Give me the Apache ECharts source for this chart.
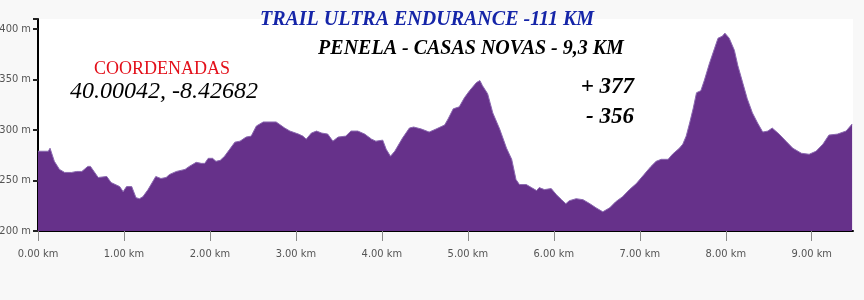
<!DOCTYPE html>
<html>
<head>
<meta charset="utf-8">
<script src="https://cdn.jsdelivr.net/npm/echarts@6/dist/echarts.min.js"></script>
<style>
html,body{margin:0;padding:0;background:#f8f8f8;}
#c{width:864px;height:300px;}
</style>
</head>
<body>
<div id="c"></div>
<script>
// Distance along the route (km)
const distanceKm = [
  0.00, 0.12, 0.14, 0.19, 0.25, 0.31, 0.39, 0.45, 0.51, 0.58, 0.61, 0.70, 0.80, 0.85, 0.95, 0.99,
  1.03, 1.09, 1.14, 1.18, 1.22, 1.28, 1.37, 1.43, 1.49, 1.53, 1.61, 1.71, 1.76, 1.84, 1.90, 1.94, 1.98,
  2.03, 2.07, 2.12, 2.17, 2.23, 2.29, 2.35, 2.42, 2.48, 2.54, 2.62, 2.77, 2.87, 2.93,
  3.03, 3.08, 3.12, 3.18, 3.24, 3.30, 3.37, 3.43, 3.49, 3.58, 3.64, 3.72, 3.80, 3.88, 3.93,
  4.01, 4.05, 4.10, 4.15, 4.24, 4.32, 4.37, 4.46, 4.55, 4.63, 4.73, 4.77, 4.83, 4.90, 4.96,
  5.02, 5.10, 5.14, 5.17, 5.23, 5.29, 5.37, 5.45, 5.51, 5.56, 5.60, 5.68, 5.74, 5.80, 5.83, 5.89, 5.97,
  6.03, 6.09, 6.14, 6.18, 6.26, 6.34, 6.42, 6.49, 6.57, 6.65, 6.72, 6.80, 6.88, 6.96,
  7.05, 7.13, 7.19, 7.25, 7.33, 7.38, 7.46, 7.50, 7.54, 7.58, 7.62, 7.66, 7.71, 7.75, 7.81, 7.87, 7.91, 7.96, 7.99,
  8.04, 8.10, 8.14, 8.20, 8.25, 8.31, 8.37, 8.43, 8.49, 8.54, 8.62, 8.70, 8.78, 8.88, 8.97,
  9.05, 9.13, 9.20, 9.30, 9.40, 9.47
];
// Elevation (m)
const elevationM = [
  279, 279, 282, 269, 261, 258, 258, 259, 259, 264, 264, 253, 254, 248, 244, 239,
  244, 244, 233, 232, 234, 241, 254, 252, 253, 256, 259, 261, 264, 268, 267, 267, 272,
  272, 269, 270, 274, 281, 288, 289, 293, 294, 304, 308, 308, 302, 299,
  296, 294, 291, 297, 299, 297, 296, 289, 293, 294, 299, 299, 296, 291, 289,
  290, 281, 274, 279, 292, 302, 303, 301, 298, 301, 305, 311, 321, 323, 332,
  339, 347, 349, 344, 336, 317, 301, 282, 271, 251, 246, 246, 243, 240, 243, 241, 242,
  236, 231, 227, 230, 232, 231, 227, 223, 219, 223, 229, 234, 241, 247,
  256, 264, 269, 271, 271, 276, 282, 286, 294, 307, 321, 337, 339, 349, 366, 381, 391, 393, 396,
  391, 379, 364, 346, 331, 317, 307, 298, 299, 302, 296, 289, 282, 277, 276,
  279, 286, 295, 296, 299, 306
];
const xMaxKm = 9.48;
const yMin = 200, yMax = 410;

const titleMain = 'TRAIL ULTRA ENDURANCE -111 KM';
const titleSub = 'PENELA - CASAS NOVAS - 9,3 KM';
const coordLabel = 'COORDENADAS';
const coordValue = '40.00042, -8.42682';
const gainText = '+ 377';
const lossText = '- 356';

const chart = echarts.init(document.getElementById('c'), null, {renderer: 'canvas'});
const seriesData = distanceKm.map((d, i) => [d, elevationM[i]]);
const labelFont = "'Liberation Sans Narrow', 'DejaVu Sans Condensed', 'Liberation Sans', Arial, sans-serif";

chart.setOption({
  backgroundColor: '#f8f8f8',
  animation: false,
  grid: {left: 38, right: 11, top: 19, bottom: 69, containLabel: false, outerBoundsMode: 'none',
         show: true, backgroundColor: '#ffffff', borderWidth: 0},
  xAxis: {
    type: 'value', min: 0, max: xMaxKm, interval: 1,
    axisLine: {show: true, onZero: false, lineStyle: {color: '#000', width: 2}},
    axisTick: {show: true, length: 10, lineStyle: {color: '#8a8a8a', width: 1}},
    splitLine: {show: false},
    axisLabel: {
      margin: 18, color: '#555', fontSize: 11, fontFamily: labelFont,
      showMaxLabel: false,
      formatter: v => (Math.abs(v - Math.round(v)) < 1e-6 ? v.toFixed(2) + ' km' : '')
    }
  },
  yAxis: {
    type: 'value', min: yMin, max: yMax, interval: 50,
    axisLine: {show: true, lineStyle: {color: '#000', width: 2}},
    axisTick: {show: true, length: 5, lineStyle: {color: '#222', width: 2}},
    splitLine: {show: false},
    axisLabel: {
      margin: 7, color: '#555', fontSize: 11, fontFamily: labelFont,
      formatter: v => (v % 50 === 0 ? v + ' m' : '')
    }
  },
  series: [{
    type: 'line',
    data: seriesData,
    showSymbol: false,
    symbol: 'none',
    smooth: false,
    lineStyle: {color: '#8a68b0', width: 1},
    areaStyle: {color: '#66318a', opacity: 1, origin: 'start'},
    z: 2
  }],
  graphic: [
    {type: 'text', z: 10,
     style: {text: titleMain, x: 427, y: 20, align: 'center', verticalAlign: 'middle',
       font: "italic bold 20px 'Liberation Serif', 'DejaVu Serif', serif", fill: '#1525a8'}},
    {type: 'text', z: 10,
     style: {text: titleSub, x: 471, y: 49, align: 'center', verticalAlign: 'middle',
       font: "italic bold 20px 'Liberation Serif', 'DejaVu Serif', serif", fill: '#000'}},
    {type: 'text', z: 10,
     style: {text: coordLabel, x: 162, y: 69, align: 'center', verticalAlign: 'middle',
       font: "18px 'Liberation Serif', 'DejaVu Serif', serif", fill: '#e3101a',
       shadowBlur: 4, shadowColor: 'rgba(0,0,0,0.45)', shadowOffsetX: 1, shadowOffsetY: 1}},
    {type: 'text', z: 10,
     style: {text: coordValue, x: 164, y: 92, align: 'center', verticalAlign: 'middle',
       font: "italic 24px 'Liberation Serif', 'DejaVu Serif', serif", fill: '#000'}},
    {type: 'text', z: 10,
     style: {text: gainText, x: 634, y: 87, align: 'right', verticalAlign: 'middle',
       font: "italic bold 23px 'Liberation Serif', 'DejaVu Serif', serif", fill: '#000'}},
    {type: 'text', z: 10,
     style: {text: lossText, x: 634, y: 117, align: 'right', verticalAlign: 'middle',
       font: "italic bold 23px 'Liberation Serif', 'DejaVu Serif', serif", fill: '#000'}}
  ]
});
</script>
</body>
</html>
